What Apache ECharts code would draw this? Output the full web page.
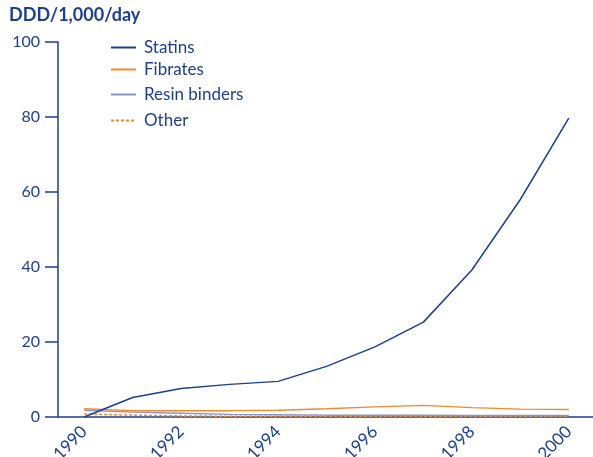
<!DOCTYPE html>
<html>
<head>
<meta charset="utf-8">
<script src="https://cdn.jsdelivr.net/npm/echarts@6/dist/echarts.min.js"></script>
<style>
  html, body { margin: 0; padding: 0; background: #fff; }
  #chart { width: 593px; height: 457px; }
</style>
</head>
<body>
<div id="chart"></div>
<script>
// years on the x axis
const years = [1990, 1991, 1992, 1993, 1994, 1995, 1996, 1997, 1998, 1999, 2000]
const yearLabels = [1990, 1992, 1994, 1996, 1998, 2000]
const yTicks = [0, 20, 40, 60, 80, 100]
// DDD/1,000/day per drug group
const statins = [0, 5.2, 7.6, 8.7, 9.5, 13.5, 18.7, 25.3, 39.2, 58, 79.7]
const fibrates = [2.2, 1.7, 1.7, 1.7, 1.8, 2.2, 2.7, 3.1, 2.5, 2.1, 2.0]
const resinBinders = [1.8, 1.3, 1.0, 0.7, 0.6, 0.5, 0.5, 0.5, 0.4, 0.4, 0.4]
const other = [0.8, 0.5, 0.3, 0.2, 0.2, 0.2, 0.2, 0.2, 0.2, 0.2, 0.2]

const navy = '#1c3f8e'
const orange = '#f0892a'
const lavender = '#8c93c6'
const font = 'Lato'

const chart = echarts.init(document.getElementById('chart'))

const pairs = (vals) => years.map((y, i) => [y, vals[i]])

// one legend per item so the rows sit where the original has them
const legendRow = (name, top) => ({
  data: [name],
  left: 105,
  top: top,
  itemWidth: 25,
  itemHeight: 14,
  itemGap: 8,
  // hide the round marker, keep only the line
  itemStyle: { color: 'rgba(0,0,0,0)', borderColor: 'rgba(0,0,0,0)', borderWidth: 0 },
  textStyle: { color: navy, fontSize: 17, fontFamily: font, padding: [0, 0, 0, 3] }
})

chart.setOption({
  animation: false,
  textStyle: { fontFamily: font },
  title: {
    text: 'DDD/1,000/day',
    left: 4,
    top: 1,
    textStyle: { color: navy, fontSize: 18, fontWeight: 'bold', fontFamily: font }
  },
  legend: [
    legendRow('Statins', 34),
    legendRow('Fibrates', 56),
    legendRow('Resin binders', 81),
    legendRow('Other', 107)
  ],
  grid: { left: 58, right: 0, top: 42, bottom: 40, outerBoundsMode: 'none' },
  xAxis: {
    type: 'value',
    min: 1989.46,
    max: 2000.5,
    splitLine: { show: false },
    axisLine: { lineStyle: { color: navy, width: 1.5 } },
    axisTick: { show: false },
    axisLabel: {
      customValues: yearLabels,
      rotate: 45,
      margin: 12,
      color: navy,
      fontSize: 17,
      fontFamily: font,
      formatter: (v) => String(v)
    }
  },
  yAxis: {
    type: 'value',
    min: 0,
    max: 100,
    interval: 20,
    splitLine: { show: false },
    axisLine: { show: true, lineStyle: { color: navy, width: 1.5 } },
    axisTick: { show: true, length: 13, customValues: yTicks, lineStyle: { color: navy, width: 1.5 } },
    axisLabel: { margin: 18, color: navy, fontSize: 16, fontFamily: font }
  },
  series: [
    {
      name: 'Other',
      type: 'line',
      symbol: 'none',
      data: pairs(other),
      lineStyle: { color: orange, width: 1.5, type: [3, 2] },
      itemStyle: { color: orange }
    },
    {
      name: 'Resin binders',
      type: 'line',
      symbol: 'none',
      data: pairs(resinBinders),
      lineStyle: { color: lavender, width: 1.5 },
      itemStyle: { color: lavender }
    },
    {
      name: 'Fibrates',
      type: 'line',
      symbol: 'none',
      data: pairs(fibrates),
      lineStyle: { color: orange, width: 1.5 },
      itemStyle: { color: orange }
    },
    {
      name: 'Statins',
      type: 'line',
      symbol: 'none',
      data: pairs(statins),
      lineStyle: { color: navy, width: 1.5 },
      itemStyle: { color: navy }
    }
  ]
})
</script>
</body>
</html>
